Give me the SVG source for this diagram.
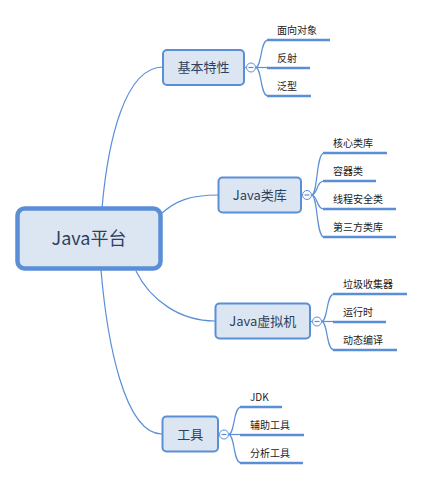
<svg xmlns="http://www.w3.org/2000/svg" width="424" height="480" viewBox="0 0 424 480">
<style>
.c{fill:none;stroke:#5a8fd8;stroke-width:1.2}
.u{stroke:#5a8fd8;stroke-width:2.6}
.box{fill:#dce6f2;stroke:#5a8fd8;stroke-width:2}
.root{fill:#dce6f2;stroke:#5a8fd8;stroke-width:4.5}
.t{font-family:"Noto Sans CJK SC","Noto Sans",sans-serif;fill:#2e3f5c;text-anchor:middle}
.l{font-family:"Noto Sans CJK SC","Noto Sans",sans-serif;fill:#1a1a1a;font-size:10px}
.tog{fill:#fff;stroke:#5a8fd8;stroke-width:1}
</style>
<rect width="424" height="480" fill="#fff"/>
<g id="connectors">
<path class="c" d="M102,208 C108,140 125,67 163,67"/>
<path class="c" d="M161,214 C175,201 190,195 218,195"/>
<path class="c" d="M136,271 C150,300 180,321 215,321"/>
<path class="c" d="M101,270 C107,340 124,434 162,434"/>
<path class="c" d="M244,67.5 L246.5,67.5"/>
<path class="c" d="M255.5,67.5 C262,67.5 260,40 268,40"/>
<path class="c" d="M255.5,67.5 L268,67.5"/>
<path class="c" d="M255.5,67.5 C262,67.5 260,96 268,96"/>
<path class="c" d="M301,195 L302.5,195"/>
<path class="c" d="M311.5,195 C318,195 316,153 324,153"/>
<path class="c" d="M311.5,195 C318,195 316,181 324,181"/>
<path class="c" d="M311.5,195 C318,195 316,209 324,209"/>
<path class="c" d="M311.5,195 C318,195 316,237 324,237"/>
<path class="c" d="M310,321.5 L312.5,321.5"/>
<path class="c" d="M321.5,321.5 C328,321.5 326,294 334,294"/>
<path class="c" d="M321.5,321.5 L334,321.5"/>
<path class="c" d="M321.5,321.5 C328,321.5 326,350 334,350"/>
<path class="c" d="M218,434.5 L219.5,434.5"/>
<path class="c" d="M228.5,434.5 C235,434.5 233,407 241,407"/>
<path class="c" d="M228.5,434.5 L241,434.5"/>
<path class="c" d="M228.5,434.5 C235,434.5 233,463 241,463"/>
</g>
<g id="root">
<rect class="root" x="17.5" y="208.5" width="143" height="60" rx="7"/>
<text class="t" x="89" y="245" font-size="18">Java平台</text>
</g>
<g id="n1">
<rect class="box" x="163" y="50" width="81" height="35" rx="4"/>
<text class="t" x="203.5" y="72" font-size="13">基本特性</text>
<circle class="tog" cx="251" cy="67.5" r="4.5"/><path class="c" d="M248.5,67.5 H253.5"/>
</g>
<g id="n2">
<rect class="box" x="218.5" y="177.5" width="82.5" height="35" rx="4"/>
<text class="t" x="259.75" y="200" font-size="13">Java类库</text>
<circle class="tog" cx="307" cy="195" r="4.5"/><path class="c" d="M304.5,195 H309.5"/>
</g>
<g id="n3">
<rect class="box" x="215.5" y="303.5" width="94.5" height="35" rx="4"/>
<text class="t" x="262.75" y="326" font-size="13">Java虚拟机</text>
<circle class="tog" cx="317" cy="321.5" r="4.5"/><path class="c" d="M314.5,321.5 H319.5"/>
</g>
<g id="n4">
<rect class="box" x="162.5" y="416.5" width="55.5" height="35" rx="4"/>
<text class="t" x="190.25" y="439" font-size="13">工具</text>
<circle class="tog" cx="224" cy="434.5" r="4.5"/><path class="c" d="M221.5,434.5 H226.5"/>
</g>
<g id="l1"><line class="u" x1="267" y1="40" x2="330" y2="40"/><text class="l" x="277" y="34">面向对象</text></g>
<g id="l2"><line class="u" x1="267" y1="68" x2="310" y2="68"/><text class="l" x="277" y="62">反射</text></g>
<g id="l3"><line class="u" x1="267" y1="96" x2="311" y2="96"/><text class="l" x="277" y="90">泛型</text></g>
<g id="l4"><line class="u" x1="323" y1="153" x2="387" y2="153"/><text class="l" x="333" y="147">核心类库</text></g>
<g id="l5"><line class="u" x1="323" y1="181" x2="376" y2="181"/><text class="l" x="333" y="175">容器类</text></g>
<g id="l6"><line class="u" x1="323" y1="209" x2="396" y2="209"/><text class="l" x="333" y="203">线程安全类</text></g>
<g id="l7"><line class="u" x1="323" y1="237" x2="396" y2="237"/><text class="l" x="333" y="231">第三方类库</text></g>
<g id="l8"><line class="u" x1="333" y1="294" x2="407" y2="294"/><text class="l" x="343" y="288">垃圾收集器</text></g>
<g id="l9"><line class="u" x1="333" y1="322" x2="386" y2="322"/><text class="l" x="343" y="316">运行时</text></g>
<g id="l10"><line class="u" x1="333" y1="350" x2="397" y2="350"/><text class="l" x="343" y="344">动态编译</text></g>
<g id="l11"><line class="u" x1="240" y1="407" x2="282" y2="407"/><text class="l" x="250" y="401">JDK</text></g>
<g id="l12"><line class="u" x1="240" y1="435" x2="304" y2="435"/><text class="l" x="250" y="429">辅助工具</text></g>
<g id="l13"><line class="u" x1="240" y1="463" x2="303" y2="463"/><text class="l" x="250" y="457">分析工具</text></g>
</svg>
